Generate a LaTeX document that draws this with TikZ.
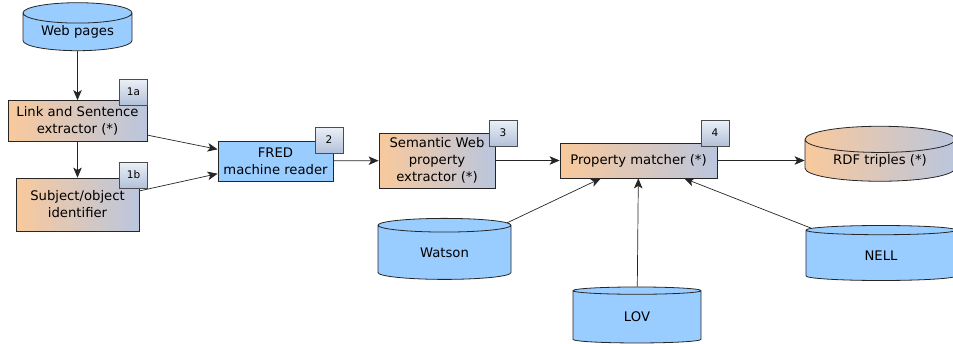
\documentclass[tikz,border=0pt]{standalone}
\usepackage{fontspec}
\setmainfont{DejaVu Sans}
\usetikzlibrary{shapes.geometric,arrows.meta}

\definecolor{storeblue}{RGB}{153,204,255}
\definecolor{procpeach}{RGB}{249,201,156}
\definecolor{procgrey}{RGB}{186,198,222}
\definecolor{tagtop}{RGB}{236,240,247}
\definecolor{tagbot}{RGB}{178,193,218}
\newcommand\boxfont{\fontsize{13.2}{17}\selectfont}

\begin{document}
\begin{tikzpicture}[x=1pt,y=-1pt,
    proc_node/.style={draw=black!85, line width=0.8pt, left color=procpeach, right color=procgrey,
      align=center, inner sep=0pt, font=\boxfont},
    store_node/.style={cylinder, shape border rotate=90, aspect=0.28, draw=black!85, line width=0.8pt,
      fill=storeblue, inner sep=0pt, font=\boxfont},
    tag_node/.style={draw=black!70, line width=0.8pt, top color=tagtop, bottom color=tagbot,
      minimum width=28pt, minimum height=26pt, inner sep=0pt, font=\fontsize{10.5}{10.5}\selectfont},
    flow/.style={-{Stealth[length=10pt,width=8.5pt,inset=2.5pt]}, line width=0.7pt, black!85}]
    \useasboundingbox (0,0) rectangle (953,343);

    % sources and stores
    \node[store_node, minimum width=109pt, minimum height=48pt] (web) at (77.5, 32) {Web pages};
    \node[store_node, minimum width=133pt, minimum height=61pt] (watson) at (444.5, 252.5) {Watson};
    \node[store_node, minimum width=128pt, minimum height=56pt] (lov) at (637, 317) {LOV};
    \node[store_node, minimum width=150pt, minimum height=55pt] (nell) at (881, 255.5) {NELL};
    \node[store_node, minimum width=150pt, minimum height=55pt, fill=none,
      left color=procpeach, right color=procgrey] (rdf) at (880, 160.5) {RDF triples (*)};

    % processing steps
    \node[proc_node, minimum width=139pt, minimum height=41pt] (link) at (77.5, 121) {Link and Sentence\\extractor (*)};
    \node[proc_node, minimum width=123pt, minimum height=53pt] (subj) at (77.5, 204.5) {Subject/object\\identifier};
    \node[proc_node, minimum width=115pt, minimum height=40pt, left color=storeblue, right color=storeblue] (fred) at (275.5, 161) {FRED\\machine reader};
    \node[proc_node, minimum width=116pt, minimum height=55pt] (sem) at (437, 160.5) {Semantic Web\\property\\extractor (*)};
    \node[proc_node, minimum width=157pt, minimum height=35pt] (prop) at (638.5, 160.5) {Property matcher (*)};

    % step numbers
    \node[tag_node] (t1a) at (133.5, 92) {1a};
    \node[tag_node] (t1b) at (133.5, 175) {1b};
    \node[tag_node] (t2) at (329, 140) {2};
    \node[tag_node] (t3) at (503, 133) {3};
    \node[tag_node] (t4) at (715, 133) {4};

    \draw[flow] (web) -- (link);
    \draw[flow] (link) -- (subj);
    \draw[flow] (link) -- (fred);
    \draw[flow] (subj) -- (fred);
    \draw[flow] (fred) -- (sem);
    \draw[flow] (sem) -- (prop);
    \draw[flow] (prop) -- (rdf);
    \draw[flow] (watson) -- (prop);
    \draw[flow] (lov) -- (prop);
    \draw[flow] (nell) -- (prop);
\end{tikzpicture}
\end{document}
